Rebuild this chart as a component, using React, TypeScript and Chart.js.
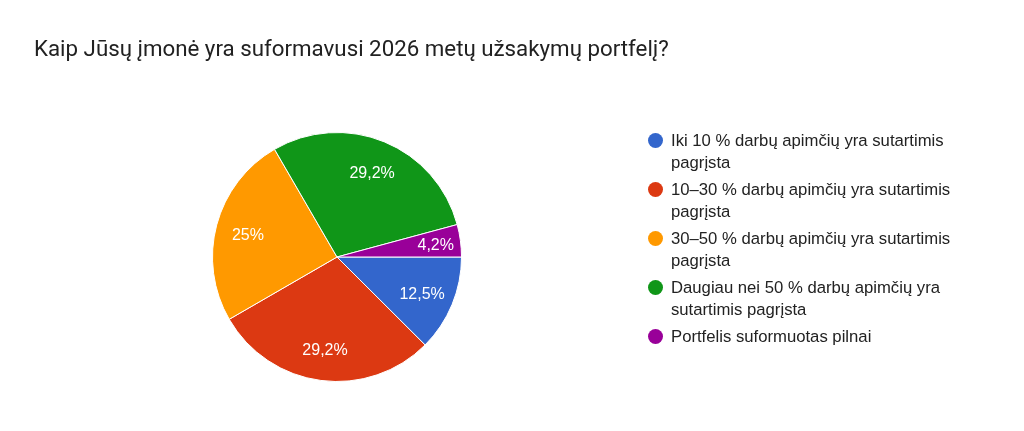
import { useEffect, useRef } from "react";
import { Chart, ArcElement, PieController, Plugin } from "chart.js";

Chart.register(ArcElement, PieController);

const TITLE = "Kaip Jūsų įmonė yra suformavusi 2026 metų užsakymų portfelį?";

const labels = [
  "Iki 10 % darbų apimčių yra sutartimis pagrįsta",
  "10–30 % darbų apimčių yra sutartimis pagrįsta",
  "30–50 % darbų apimčių yra sutartimis pagrįsta",
  "Daugiau nei 50 % darbų apimčių yra sutartimis pagrįsta",
  "Portfelis suformuotas pilnai",
];
const shares = [12.5, 29.2, 25, 29.2, 4.2];
const colors = ["#3366cc", "#dc3912", "#ff9900", "#109618", "#990099"];

const fmt = (v: number) => `${v}`.replace(".", ",") + "%";

// white percentage labels inside each slice
const sliceLabels: Plugin<"pie"> = {
  id: "sliceLabels",
  afterDatasetsDraw(chart) {
    const ctx = chart.ctx;
    const meta = chart.getDatasetMeta(0);
    ctx.save();
    ctx.fillStyle = "#ffffff";
    ctx.font = "16px 'Liberation Sans'";
    ctx.textAlign = "center";
    ctx.textBaseline = "middle";
    meta.data.forEach((el, i) => {
      const { x, y, startAngle, endAngle, outerRadius } = (el as any).getProps(
        ["x", "y", "startAngle", "endAngle", "outerRadius"],
        true,
      );
      const mid = (startAngle + endAngle) / 2;
      const k = shares[i] < 10 ? 0.8 : 0.74;
      ctx.fillText(
        fmt(shares[i]),
        x + Math.cos(mid) * outerRadius * k,
        y + Math.sin(mid) * outerRadius * k + 2,
      );
    });
    ctx.restore();
  },
};

export default function App() {
  const canvasRef = useRef<HTMLCanvasElement | null>(null);

  useEffect(() => {
    document.body.style.margin = "0";
    if (!canvasRef.current) return;
    const chart = new Chart(canvasRef.current, {
      type: "pie",
      data: {
        labels,
        datasets: [
          {
            data: shares,
            backgroundColor: colors,
            borderColor: "#ffffff",
            borderWidth: 1,
          },
        ],
      },
      options: {
        responsive: false,
        animation: false,
        rotation: 90,
        layout: {
          padding: { left: 212, right: 562, top: 132, bottom: 49 },
        },
        plugins: {
          legend: { display: false },
          tooltip: { enabled: false },
        },
      },
      plugins: [sliceLabels],
    });
    return () => chart.destroy();
  }, []);

  return (
    <div
      style={{
        position: "relative",
        width: 1024,
        height: 431,
        background: "#ffffff",
        overflow: "hidden",
      }}
    >
      <canvas
        ref={canvasRef}
        width={1024}
        height={431}
        style={{ position: "absolute", left: 0, top: 0 }}
      />
      <div
        style={{
          position: "absolute",
          left: 34,
          top: 33,
          fontFamily: "Roboto",
          fontSize: 22.3,
          color: "#212121",
          lineHeight: "30px",
          whiteSpace: "nowrap",
        }}
      >
        {TITLE}
      </div>
      <div
        style={{
          position: "absolute",
          left: 648,
          top: 130,
          fontFamily: "'Liberation Sans'",
        }}
      >
        {labels.map((l, i) => (
          <div
            key={l}
            style={{ display: "flex", alignItems: "flex-start", marginBottom: 5 }}
          >
            <span
              style={{
                width: 15,
                height: 15,
                borderRadius: "50%",
                background: colors[i],
                marginTop: 3,
                marginRight: 8,
                flex: "none",
              }}
            />
            <span
              style={{
                width: 300,
                fontSize: 16.7,
                lineHeight: "22px",
                color: "#222222",
              }}
            >
              {l}
            </span>
          </div>
        ))}
      </div>
    </div>
  );
}
